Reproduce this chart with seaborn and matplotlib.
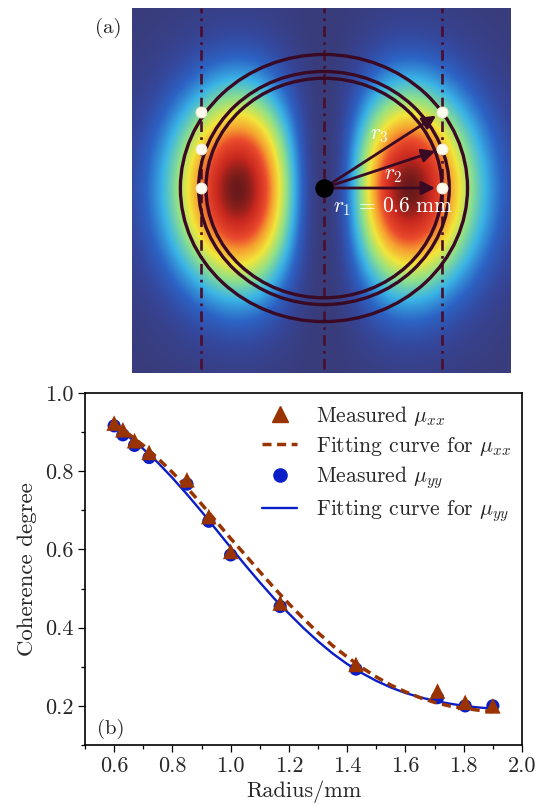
import numpy as np
import pandas as pd
import matplotlib
matplotlib.use("Agg")
import matplotlib.pyplot as plt
import seaborn as sns
from matplotlib.colors import LinearSegmentedColormap
from matplotlib.patches import Ellipse
from matplotlib.ticker import MultipleLocator, FormatStrFormatter
from matplotlib.lines import Line2D

# ---------------- data ----------------
radius_mm = [0.60, 0.63, 0.67, 0.72, 0.85, 0.925, 1.00, 1.17, 1.43, 1.71, 1.805, 1.90]
mu_xx_measured = [0.923, 0.906, 0.878, 0.848, 0.778, 0.684, 0.595, 0.463, 0.306, 0.238, 0.209, 0.200]
mu_yy_measured = [0.916, 0.893, 0.866, 0.835, 0.767, 0.672, 0.586, 0.454, 0.294, 0.221, 0.200, 0.200]

fit_radius = [0.60, 0.65, 0.70, 0.75, 0.80, 0.85, 0.90, 0.95, 1.00, 1.05, 1.10, 1.15, 1.20,
              1.25, 1.30, 1.35, 1.40, 1.45, 1.50, 1.55, 1.60, 1.65, 1.70, 1.75, 1.80, 1.85, 1.90]
fit_mu_xx = [0.922, 0.895, 0.866, 0.833, 0.797, 0.758, 0.716, 0.672, 0.628, 0.586, 0.543, 0.501, 0.461,
             0.423, 0.387, 0.354, 0.325, 0.298, 0.274, 0.253, 0.236, 0.221, 0.209, 0.200, 0.194, 0.189, 0.185]
fit_mu_yy = [0.915, 0.888, 0.857, 0.822, 0.783, 0.741, 0.697, 0.651, 0.605, 0.560, 0.516, 0.474, 0.436,
             0.399, 0.365, 0.334, 0.307, 0.284, 0.264, 0.247, 0.233, 0.222, 0.213, 0.206, 0.200, 0.196, 0.193]

ring_radii_mm = [0.60, 0.637, 0.73]          # r1, r2, r3
ring_labels = [r"$r_1\,=\,0.6\ \mathrm{mm}$", r"$r_2$", r"$r_3$"]
probe_lines_mm = [-0.625, 0.0, 0.60]

# beam-pattern parameters (mm)
beam_wx = 0.62
beam_sy = 0.38
beam_y0 = -0.01

# ---------------- style ----------------
sns.set_theme(style="ticks")
plt.rcParams["font.family"] = ["cmr10", "DejaVu Serif"]
plt.rcParams["mathtext.fontset"] = "cm"
plt.rcParams["axes.unicode_minus"] = False
plt.rcParams["axes.formatter.use_mathtext"] = True

fig = plt.figure(figsize=(5.46, 8.05), dpi=100)
W, H = 546, 805

# ---------------- panel (a) ----------------
ax_a = fig.add_axes([132 / W, 1 - 373 / H, 379 / W, 365 / H])
xlim_a = (-0.976, 0.951)
ylim_a = (-1.011, 0.984)
gx = np.linspace(*xlim_a, 400)
gy = np.linspace(*ylim_a, 400)
X, Y = np.meshgrid(gx, gy)
field = (X / beam_wx) ** 2 * np.exp(-2 * X ** 2 / beam_wx ** 2) * np.exp(-(Y - beam_y0) ** 2 / (2 * beam_sy ** 2))
field = field / field.max()

cmap = LinearSegmentedColormap.from_list(
    "beam",
    [(0.00, "#393c7b"), (0.07, "#35469a"), (0.16, "#2c62c4"), (0.28, "#3ab4e6"),
     (0.42, "#8ee08a"), (0.56, "#f2e63a"), (0.68, "#f6a030"), (0.78, "#ea4a2c"),
     (0.90, "#c8281e"), (1.00, "#6a1a1a")])
ax_a.imshow(field, extent=[*xlim_a, *ylim_a], origin="lower", aspect="auto",
            cmap=cmap, interpolation="bilinear", vmin=0, vmax=1)

line_col = "#4a0d2c"
ring_col = "#3a0a25"
for xv in probe_lines_mm:
    ax_a.plot([xv, xv], [ylim_a[0] + 0.02, ylim_a[1]], color=line_col, lw=1.9,
              linestyle=(0, (4, 2, 1, 2)), zorder=2)

for r in ring_radii_mm:
    ax_a.add_patch(Ellipse((0, 0), 2 * r, 2 * r, fill=False, ec=ring_col, lw=2.4, zorder=3))

dot_x = probe_lines_mm[-1]
dot_y = [np.sqrt(max(r ** 2 - dot_x ** 2, 0)) for r in ring_radii_mm]
for yv in dot_y:
    ax_a.annotate("", xy=(dot_x, yv), xytext=(0, 0),
                  arrowprops=dict(arrowstyle="-|>", color=ring_col, lw=2.0,
                                  mutation_scale=20, shrinkA=0, shrinkB=5),
                  zorder=4)
ax_a.scatter([dot_x] * 3 + [probe_lines_mm[0]] * 3, dot_y + dot_y, s=60, color="#fffbef",
             edgecolor="#f4efd6", linewidth=0.8, zorder=5)
ax_a.scatter([0], [0], s=150, color="black", zorder=6)

ax_a.text(0.351, -0.104, ring_labels[0], color="white", fontsize=15.5, ha="center", va="center", zorder=7)
ax_a.text(0.351, 0.071, ring_labels[1], color="white", fontsize=15.5, ha="center", va="center", zorder=7)
ax_a.text(0.28, 0.29, ring_labels[2], color="white", fontsize=15.5, ha="center", va="center", zorder=7)

ax_a.set_xlim(*xlim_a)
ax_a.set_ylim(*ylim_a)
ax_a.axis("off")
fig.text(108 / W, 1 - 28 / H, "(a)", fontsize=15, ha="center", va="center")

# ---------------- panel (b) ----------------
ax_b = fig.add_axes([85 / W, 1 - 745 / H, 437 / W, 352 / H])
c_xx = "#993300"
c_yy = "#0a1ec8"
meas = pd.DataFrame({"r": radius_mm, "mu_xx": mu_xx_measured, "mu_yy": mu_yy_measured})
fit = pd.DataFrame({"r": fit_radius, "mu_xx": fit_mu_xx, "mu_yy": fit_mu_yy})

sns.scatterplot(data=meas, x="r", y="mu_yy", ax=ax_b, marker="o", s=90, color=c_yy,
                edgecolor="none", zorder=3)
sns.lineplot(data=fit, x="r", y="mu_yy", ax=ax_b, color=c_yy, lw=1.7, zorder=4)
sns.scatterplot(data=meas, x="r", y="mu_xx", ax=ax_b, marker="^", s=125, color=c_xx,
                edgecolor="none", zorder=5)
sns.lineplot(data=fit, x="r", y="mu_xx", ax=ax_b, color=c_xx, lw=2.5,
             linestyle=(0, (2.6, 1.6)), zorder=6)

ax_b.set_xlim(0.5, 2.0)
ax_b.set_ylim(0.1, 1.0)
ax_b.xaxis.set_major_locator(MultipleLocator(0.2))
ax_b.xaxis.set_minor_locator(MultipleLocator(0.1))
ax_b.yaxis.set_major_locator(MultipleLocator(0.2))
ax_b.yaxis.set_minor_locator(MultipleLocator(0.1))
ax_b.xaxis.set_major_formatter(FormatStrFormatter("%.1f"))
ax_b.yaxis.set_major_formatter(FormatStrFormatter("%.1f"))
ax_b.tick_params(which="major", direction="out", length=4.8, width=0.9, labelsize=16, color="black")
ax_b.tick_params(which="minor", direction="out", length=3.0, width=0.9, color="black")
for sp in ax_b.spines.values():
    sp.set_visible(True)
    sp.set_linewidth(1.2)
    sp.set_color("black")
ax_b.set_xlabel("Radius/mm", fontsize=16, labelpad=3)
ax_b.set_ylabel("Coherence degree", fontsize=16.5, labelpad=6)
ax_b.text(0.058, 0.045, "(b)", transform=ax_b.transAxes, fontsize=15, ha="center", va="center")

handles = [
    Line2D([], [], marker="^", color=c_xx, linestyle="none", markersize=11),
    Line2D([], [], color=c_xx, lw=2.5, linestyle=(0, (2.6, 1.6))),
    Line2D([], [], marker="o", color=c_yy, linestyle="none", markersize=9.5),
    Line2D([], [], color=c_yy, lw=1.7),
]
labels = [r"Measured $\mu_{xx}$", r"Fitting curve for $\mu_{xx}$",
          r"Measured $\mu_{yy}$", r"Fitting curve for $\mu_{yy}$"]
ax_b.legend(handles, labels, loc="upper right", frameon=False, fontsize=15.5,
            handlelength=1.6, handletextpad=0.9, labelspacing=0.32, borderaxespad=0.1)

fig.savefig("out.png", dpi=100)
